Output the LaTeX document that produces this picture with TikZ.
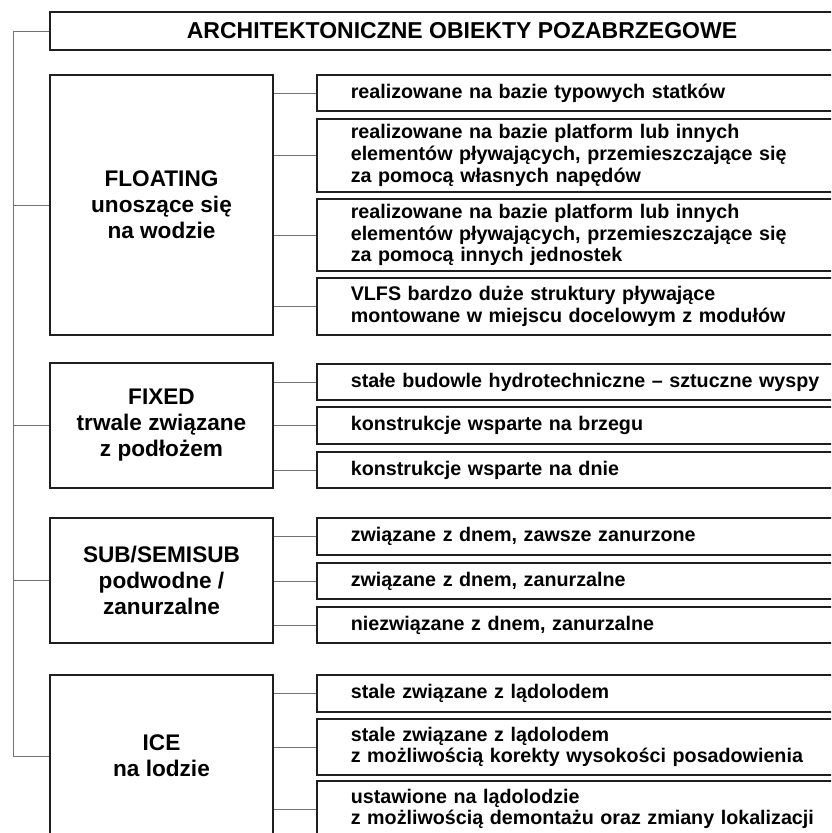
\documentclass[tikz,border=0pt]{standalone}
\usepackage{fontspec}
\setmainfont{Liberation Sans}
\usetikzlibrary{positioning}

\newcommand{\headfont}{\fontsize{23}{26}\selectfont\bfseries}
\newcommand{\groupfont}{\fontsize{22.6}{26}\selectfont\bfseries}
\newcommand{\itemfont}{\fontsize{19.7}{21.7}\selectfont\bfseries}

\begin{document}
\begin{tikzpicture}[x=1pt,y=-1pt,
    box/.style={draw=black!88,line width=1.6pt,fill=white,inner sep=0pt},
    headbox/.style={box,minimum width=824pt,minimum height=38pt,font=\headfont},
    groupbox/.style={box,minimum width=223pt,align=center,font=\groupfont},
    itembox/.style={box,anchor=west,text width=470pt,inner xsep=34pt,align=left,font=\itemfont},
    link/.style={draw=black!55,line width=1pt}]
    \useasboundingbox (0,0) rectangle (831,833);
    \clip (0,0) rectangle (831,833);

    % Title
    \node[headbox] (head) at (462,31) {ARCHITEKTONICZNE OBIEKTY POZABRZEGOWE};

    % Groups
    \node[groupbox,minimum height=260pt] (floating) at (161.5,205) {FLOATING\\unoszące się\\na wodzie};
    \node[groupbox,minimum height=125pt] (fixed) at (161.5,425.5) {FIXED\\trwale związane\\z podłożem};
    \node[groupbox,minimum height=125pt] (sub) at (161.5,580.5) {SUB/SEMISUB\\podwodne /\\zanurzalne};
    \node[groupbox,minimum height=162pt] (ice) at (161.5,756) {ICE\\na lodzie};

    % Floating items
    \node[itembox,minimum height=36pt] (f1) at (316,93) {realizowane na bazie typowych statków};
    \node[itembox,minimum height=73pt] (f2) at (316,155.5) {realizowane na bazie platform lub innych\\elementów pływających, przemieszczające się\\za pomocą własnych napędów};
    \node[itembox,minimum height=72pt] (f3) at (316,235) {realizowane na bazie platform lub innych\\elementów pływających, przemieszczające się\\za pomocą innych jednostek};
    \node[itembox,minimum height=57pt] (f4) at (316,306.5) {VLFS bardzo duże struktury pływające\\montowane w miejscu docelowym z modułów};

    % Fixed items
    \node[itembox,minimum height=36pt] (x1) at (316,382) {stałe budowle hydrotechniczne – sztuczne wyspy};
    \node[itembox,minimum height=37pt] (x2) at (316,425.5) {konstrukcje wsparte na brzegu};
    \node[itembox,minimum height=36pt] (x3) at (316,470) {konstrukcje wsparte na dnie};

    % Sub/semisub items
    \node[itembox,minimum height=37pt] (s1) at (316,536.5) {związane z dnem, zawsze zanurzone};
    \node[itembox,minimum height=36pt] (s2) at (316,581) {związane z dnem, zanurzalne};
    \node[itembox,minimum height=36pt] (s3) at (316,625) {niezwiązane z dnem, zanurzalne};

    % Ice items
    \node[itembox,minimum height=37pt] (i1) at (316,693.5) {stale związane z lądolodem};
    \node[itembox,minimum height=56pt] (i2) at (316,747) {stale związane z lądolodem\\z możliwością korekty wysokości posadowienia};
    \node[itembox,minimum height=56pt] (i3) at (316,809) {ustawione na lądolodzie\\z możliwością demontażu oraz zmiany lokalizacji};

    % Left spine
    \coordinate (spine) at (13,31);
    \draw[link] (head.west) -- (spine) |- (ice.west);
    \draw[link] (floating.west) -- (floating.west -| spine);
    \draw[link] (fixed.west) -- (fixed.west -| spine);
    \draw[link] (sub.west) -- (sub.west -| spine);

    % Group to item links
    \draw[link] (floating.east |- f1) -- (f1.west);
    \draw[link] (floating.east |- f2) -- (f2.west);
    \draw[link] (floating.east |- f3) -- (f3.west);
    \draw[link] (floating.east |- f4) -- (f4.west);
    \draw[link] (fixed.east |- x1) -- (x1.west);
    \draw[link] (fixed.east |- x2) -- (x2.west);
    \draw[link] (fixed.east |- x3) -- (x3.west);
    \draw[link] (sub.east |- s1) -- (s1.west);
    \draw[link] (sub.east |- s2) -- (s2.west);
    \draw[link] (sub.east |- s3) -- (s3.west);
    \draw[link] (ice.east |- i1) -- (i1.west);
    \draw[link] (ice.east |- i2) -- (i2.west);
    \draw[link] (ice.east |- i3) -- (i3.west);
\end{tikzpicture}
\end{document}
